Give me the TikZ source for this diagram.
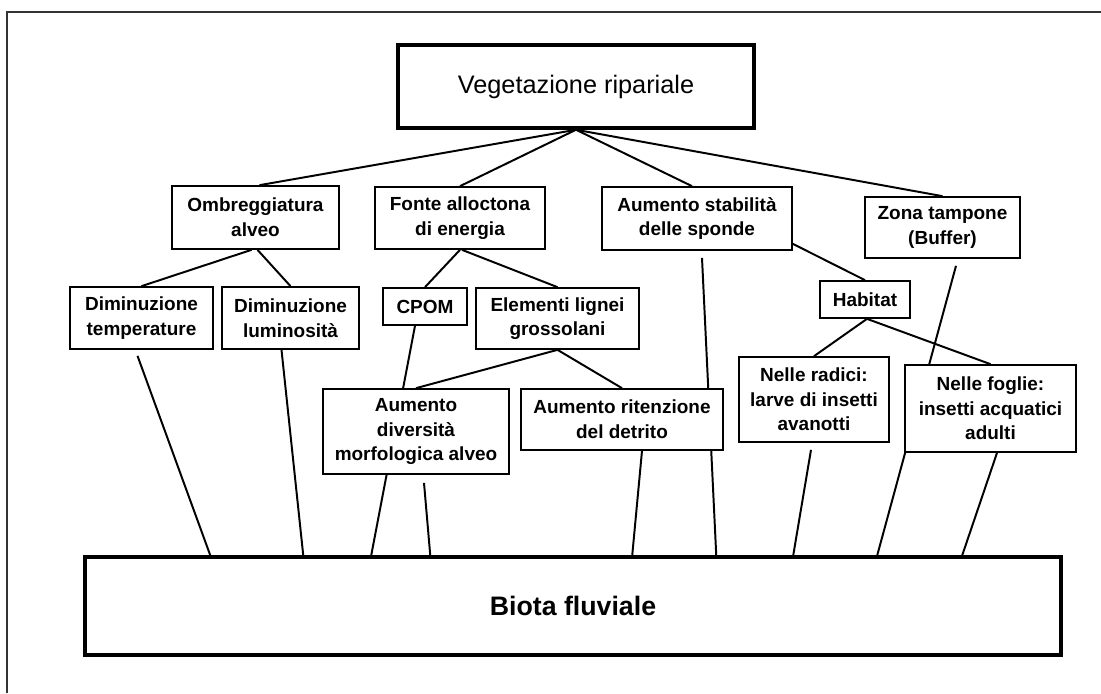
\documentclass[tikz,border=0pt]{standalone}
\usepackage{fontspec}
\setmainfont{Liberation Sans}
\usepackage{tikz}
\usetikzlibrary{positioning,calc,backgrounds}
\tikzset{
	scheme/.style={x=0.025cm,y=-0.025cm,line join=miter},
	dims/.style 2 args={minimum width=#1*0.025cm,minimum height=#2*0.025cm},
	item/.style={rectangle,draw,line width=1.2pt,fill=white,inner sep=0pt,align=center,
		font=\fontsize{13.5}{17.5}\selectfont\bfseries},
	main/.style={rectangle,draw,line width=2.5pt,fill=white,inner sep=0pt,align=center},
	link/.style={line width=1.4pt},
	frame/.style={line width=1pt,draw=black!80}
}

\begin{document}
\begin{tikzpicture}[scheme]
	\useasboundingbox (0,0) rectangle (1101,693);
	\draw[frame] (7,693) -- (7,12) -- (1101,12);
	
	% top and bottom
	\node[main, dims={356}{83}, font=\fontsize{18}{22}\selectfont] (veg) at (576,86.5) {Vegetazione ripariale};
	\node[main, dims={976}{98}, font=\fontsize{19}{23}\selectfont\bfseries] (biota) at (573,606) {Biota fluviale};
	
	% first row
	\node[item, dims={167}{63}] (omb) at (255.5,217.5) {Ombreggiatura\\alveo};
	\node[item, dims={170}{62}] (fonte) at (460,218) {Fonte alloctona\\di energia};
	\node[item, dims={190}{63}] (stab) at (697,218.5) {Aumento stabilità\\delle sponde};
	\node[item, dims={155}{61}] (zona) at (942.5,227.5) {Zona tampone\\(Buffer)};
	
	% second row
	\node[item, dims={143}{62}] (dtemp) at (141.5,318) {Diminuzione\\temperature};
	\node[item, dims={137}{62}] (dlum) at (290.5,318) {Diminuzione\\luminosità};
	\node[item, dims={84}{37}] (cpom) at (425,306.5) {CPOM};
	\node[item, dims={163}{61}] (elem) at (557.5,318.5) {Elementi lignei\\grossolani};
	\node[item, dims={90}{37}] (habitat) at (865,299.5) {Habitat};
	
	% third row
	\node[item, dims={186}{85}] (div) at (416,431.5) {Aumento\\diversità\\morfologica alveo};
	\node[item, dims={202}{61}] (rit) at (622,419.5) {Aumento ritenzione\\del detrito};
	\node[item, dims={150}{85}] (radici) at (814,399.5) {Nelle radici:\\larve di insetti\\avanotti};
	\node[item, dims={171}{87}] (foglie) at (990.5,408.5) {Nelle foglie:\\insetti acquatici\\adulti};
	
	\begin{pgfonlayer}{background}
	\draw[link] (veg.south) -- ($(omb.north)+(4,0)$);
	\draw[link] (veg.south) -- (fonte.north);
	\draw[link] (veg.south) -- ($(stab.north)+(-5,0)$);
	\draw[link] (veg.south) -- (zona.north);
	
	\draw[link] ($(omb.south)+(-4,0)$) -- (dtemp.north);
	\draw[link] ($(omb.south)+(2,0)$) -- (dlum.north);
	\draw[link] (fonte.south) -- (cpom.north);
	\draw[link] ($(fonte.south)+(2,0)$) -- (elem.north);
	\draw[link] (elem.south) -- (div.north);
	\draw[link] (elem.south) -- (rit.north);
	\draw[link] ($(stab.south east)+(0,-7)$) -- (habitat.north);
	\draw[link] ($(habitat.south)+(2,0)$) -- (radici.north);
	\draw[link] ($(habitat.south)+(2,0)$) -- (foglie.north);
	
	\draw[link] ($(dtemp.south)+(-4,6)$) -- ($(biota.north west)+(127,0)$);
	\draw[link] ($(dlum.south)+(-9,0)$) -- ($(biota.north west)+(220,0)$);
	\draw[link] ($(cpom.south)+(-10,0)$) -- ($(biota.north west)+(288,0)$);
	\draw[link] ($(div.south)+(8,8)$) -- ($(biota.north west)+(347,0)$);
	\draw[link] ($(rit.south)+(20,0)$) -- ($(biota.north west)+(549,0)$);
	\draw[link] ($(stab.south)+(5,7)$) -- ($(biota.north west)+(633,0)$);
	\draw[link] ($(radici.south)+(-3,7)$) -- ($(biota.north west)+(710,0)$);
	\draw[link] ($(zona.south)+(13.5,7)$) -- ($(biota.north west)+(794,0)$);
	\draw[link] ($(foglie.south)+(6.5,0)$) -- ($(biota.north west)+(879,0)$);
	\end{pgfonlayer}
	
\end{tikzpicture}
\end{document}
